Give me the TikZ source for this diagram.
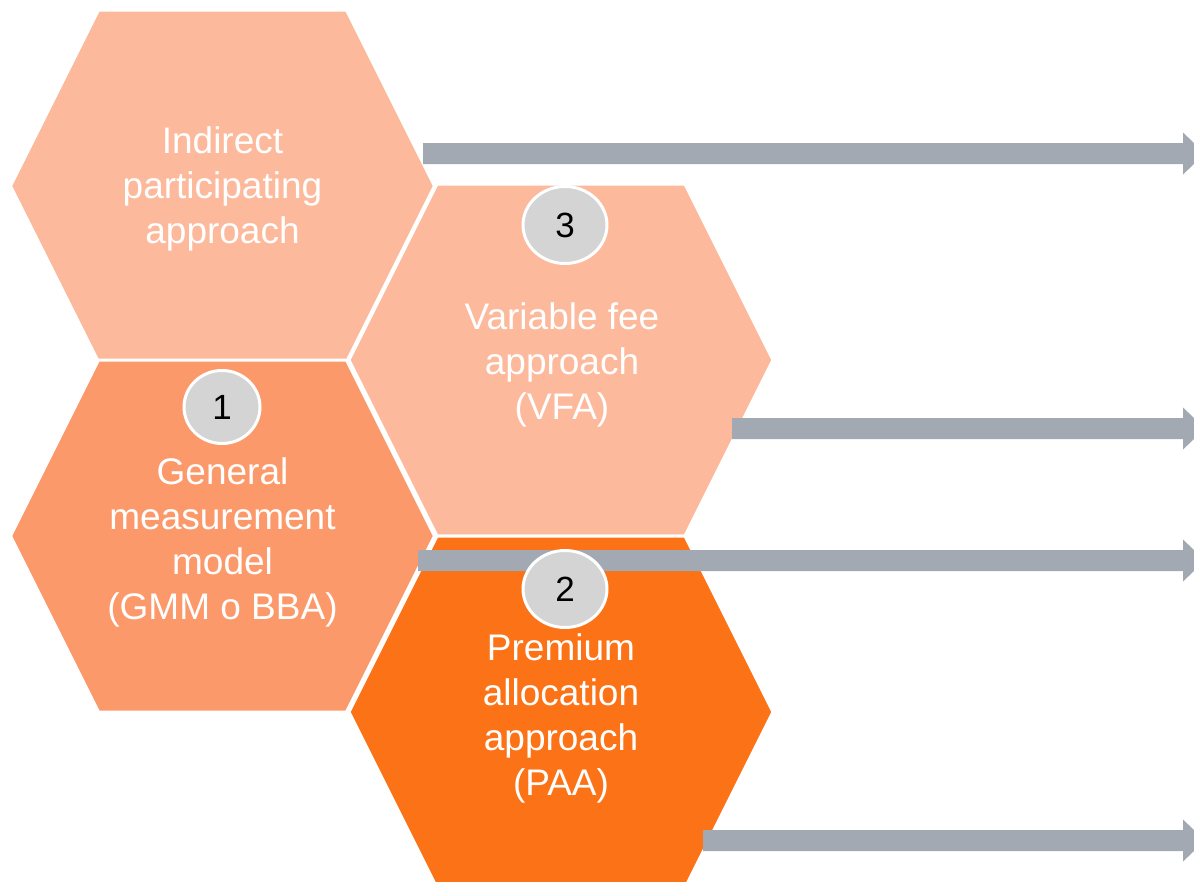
\documentclass[tikz,border=0pt]{standalone}
\usepackage{fontspec}
\setmainfont{Liberation Sans}
\definecolor{hexlight}{HTML}{FCB99B}
\definecolor{hexmid}{HTML}{FC996B}
\definecolor{hexdark}{HTML}{FC7216}
\definecolor{arrgray}{HTML}{A2A9B3}
\definecolor{circgray}{HTML}{D4D4D4}
\newcommand\hexat[3]{\fill[#3, draw=white, line width=3pt, line join=miter]
  ({#1-212},#2) -- ({#1-124},{#2-176}) -- ({#1+124},{#2-176}) -- ({#1+212},#2)
  -- ({#1+124},{#2+176}) -- ({#1-124},{#2+176}) -- cycle;}
\newcommand\blockarrow[2]{\fill[arrgray] (#1,{#2-10.5}) -- (1183,{#2-10.5}) -- (1183,{#2-21})
  -- (1205,#2) -- (1183,{#2+21}) -- (1183,{#2+10.5}) -- (#1,{#2+10.5}) -- cycle;}
\tikzset{
  hextext/.style={text=white, align=center, font=\fontsize{37}{45}\selectfont, inner sep=0pt},
  numcirc/.style={ellipse, fill=circgray, draw=white, line width=3pt, minimum width=84pt,
    minimum height=77pt, inner sep=0pt, font=\fontsize{35}{40}\selectfont, text=black}
}
\usetikzlibrary{shapes.geometric}
\begin{document}
\begin{tikzpicture}[x=1pt,y=-1pt]
\useasboundingbox (0,0) rectangle (1194,881);
\clip (0,0) rectangle (1194,881);
\hexat{222.5}{186}{hexlight}
\hexat{561}{360}{hexlight}
\hexat{222.5}{536}{hexmid}
\hexat{561}{712}{hexdark}
\blockarrow{423}{153.5}
\blockarrow{732}{428.5}
\blockarrow{418}{560.5}
\blockarrow{703}{840.5}
\node[hextext] (ipa) at (222.5,189) {Indirect\\participating\\approach};
\node[hextext] (vfa) at (562,365) {Variable fee\\approach\\(VFA)};
\node[hextext] (gmm) at (222.5,542) {General\\measurement\\model\\(GMM o BBA)};
\node[hextext] (paa) at (561,718) {Premium\\allocation\\approach\\(PAA)};
\node[numcirc] (c3) at (565,225) {3};
\node[numcirc, minimum width=76pt, minimum height=73pt] (c1) at (222,407) {1};
\node[numcirc] (c2) at (565,589) {2};
\end{tikzpicture}
\end{document}
